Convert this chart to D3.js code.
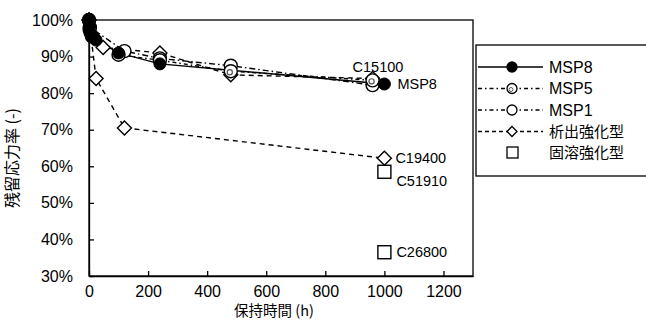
<!DOCTYPE html>
<html><head><meta charset="utf-8">
<script src="https://cdn.jsdelivr.net/npm/d3@7"></script>
<style>
body{margin:0;background:#fff;}
svg{display:block;}
text{font-family:"Liberation Sans",Arial,"Noto Sans CJK JP",sans-serif;fill:#000;}
.jp{font-family:"Noto Sans CJK JP","Liberation Sans",sans-serif;}
</style></head>
<body><svg id="c" width="646" height="322"></svg>
<script>
// ---- data ----
const xTicks = [0, 200, 400, 600, 800, 1000, 1200];
const yTicks = [0.3, 0.4, 0.5, 0.6, 0.7, 0.8, 0.9, 1.0];
const msp8 = [[0,1.00],[1,0.98],[3,0.965],[10,0.955],[24,0.945],[100,0.91],[240,0.88],[1000,0.825]];
const msp5 = [[0,1.00],[2,0.975],[10,0.955],[100,0.905],[240,0.89],[480,0.86],[960,0.835]];
const msp1 = [[0,1.00],[3,0.98],[120,0.915],[240,0.895],[480,0.875],[960,0.822]];
const c15100 = [[0,1.00],[48,0.925],[240,0.91],[480,0.85],[960,0.84]];
const c19400 = [[0,1.00],[24,0.84],[120,0.705],[1000,0.622]];
const solidSol = [[1000,0.585],[1000,0.365]];
const labels = [
  {t:"C15100", x:960, v:0.84, dx:-20, dy:-12},
  {t:"MSP8", x:1000, v:0.825, dx:13, dy:0},
  {t:"C19400", x:1000, v:0.622, dx:11, dy:0},
  {t:"C51910", x:1000, v:0.585, dx:12, dy:9},
  {t:"C26800", x:1000, v:0.365, dx:12, dy:0}
];
const legendNames = ["MSP8","MSP5","MSP1","析出強化型","固溶強化型"];

// ---- layout ----
const svg = d3.select("#c");
const L = 89, R = 473, T = 20, B = 276;
const x = d3.scaleLinear().domain([0,1300]).range([L,R]);
const y = d3.scaleLinear().domain([0.3,1.0]).range([B,T]);

// frame
svg.append("rect").attr("x",L).attr("y",T).attr("width",R-L).attr("height",B-T)
  .attr("fill","none").attr("stroke","#000").attr("stroke-width",1.3);

// axes
const xa = svg.append("g").attr("transform",`translate(0,${B})`)
  .call(d3.axisBottom(x).tickValues(xTicks).tickFormat(d3.format("d")).tickSizeInner(-5).tickSizeOuter(0).tickPadding(10));
const ya = svg.append("g").attr("transform",`translate(${L},0)`)
  .call(d3.axisLeft(y).tickValues(yTicks).tickFormat(d3.format(".0%")).tickSizeInner(-5).tickSizeOuter(0).tickPadding(16));
[xa,ya].forEach(g=>{
  g.select(".domain").attr("stroke","#000").attr("stroke-width",1.3);
  g.selectAll(".tick line").attr("stroke","#000").attr("stroke-width",1.3);
  g.selectAll(".tick text").attr("font-size",16).attr("font-family","Liberation Sans, Arial, sans-serif").attr("fill","#000");
});

// titles
svg.append("text").attr("class","jp").attr("x",274).attr("y",316).attr("text-anchor","middle")
  .attr("font-size",14.5).text("保持時間 (h)");
svg.append("text").attr("class","jp").attr("transform","translate(18,158) rotate(-90)")
  .attr("text-anchor","middle").attr("font-size",16).text("残留応力率 (-)");

// lines
const line = d3.line().x(d=>x(d[0])).y(d=>y(d[1]));
const series = [
  {d:c19400, dash:"5,4", m:"diamond"},
  {d:c15100, dash:"5,4", m:"diamond"},
  {d:msp1, dash:"6,3,1.5,3", m:"open"},
  {d:msp5, dash:"4,3,1.5,3", m:"dot"},
  {d:msp8, dash:null, m:"filled"}
];
series.forEach(s=>{
  svg.append("path").attr("d",line(s.d)).attr("fill","none").attr("stroke","#000")
    .attr("stroke-width",1.4).attr("stroke-dasharray",s.dash);
});

function marker(g, type, cx, cy){
  if(type==="filled"){
    g.append("circle").attr("cx",cx).attr("cy",cy).attr("r",6).attr("fill","#000").attr("stroke","#000");
  } else if(type==="open"){
    g.append("circle").attr("cx",cx).attr("cy",cy).attr("r",6.5).attr("fill","#fff").attr("stroke","#000").attr("stroke-width",1.4);
  } else if(type==="dot"){
    g.append("circle").attr("cx",cx).attr("cy",cy).attr("r",6.5).attr("fill","#fff").attr("stroke","#000").attr("stroke-width",1.4);
    g.append("circle").attr("cx",cx-1).attr("cy",cy+1).attr("r",2.6).attr("fill","none").attr("stroke","#555").attr("stroke-width",1.2);
  } else if(type==="diamond"){
    const h=7;
    g.append("path").attr("d",`M${cx},${cy-h}L${cx+h},${cy}L${cx},${cy+h}L${cx-h},${cy}Z`)
      .attr("fill","#fff").attr("stroke","#000").attr("stroke-width",1.4);
  } else if(type==="square"){
    g.append("rect").attr("x",cx-6.5).attr("y",cy-6.5).attr("width",13).attr("height",13)
      .attr("fill","#fff").attr("stroke","#000").attr("stroke-width",1.4);
  }
}
const mg = svg.append("g");
series.forEach(s=>{ s.d.forEach(p=>marker(mg, s.m, x(p[0]), y(p[1]))); });
solidSol.forEach(p=>marker(mg,"square",x(p[0]),y(p[1])));

// labels
labels.forEach(l=>{
  svg.append("text").attr("x",x(l.x)+l.dx).attr("y",y(l.v)+l.dy).attr("dy","0.35em")
    .attr("font-size",14.5).text(l.t);
});

// legend
const lg = svg.append("g");
lg.append("rect").attr("x",476).attr("y",45).attr("width",180).attr("height",131)
  .attr("fill","#fff").attr("stroke","#000").attr("stroke-width",1.3);
const legTypes = [
  {m:"filled",dash:null},{m:"dot",dash:"4,3,1.5,3"},{m:"open",dash:"4,3,1.5,3"},{m:"diamond",dash:"4,3"},{m:"square",dash:"none"}
];
legendNames.forEach((n,i)=>{
  const cy = 67 + i*21.5;
  const t = legTypes[i];
  if(t.dash!=="none"){
    lg.append("line").attr("x1",478).attr("x2",543).attr("y1",cy).attr("y2",cy)
      .attr("stroke","#000").attr("stroke-width",1.3).attr("stroke-dasharray",t.dash);
  }
  const gg = lg.append("g");
  if(t.m==="square"){
    gg.append("rect").attr("x",507).attr("y",cy-6).attr("width",11).attr("height",11)
      .attr("fill","#fff").attr("stroke","#000").attr("stroke-width",1.3);
  } else if(t.m==="diamond"){
    gg.append("path").attr("d",`M512,${cy-5}L517,${cy}L512,${cy+5}L507,${cy}Z`).attr("fill","#fff").attr("stroke","#000").attr("stroke-width",1.3);
  } else {
    gg.append("circle").attr("cx",512).attr("cy",cy).attr("r",5)
      .attr("fill",t.m==="filled"?"#000":"#fff").attr("stroke","#000").attr("stroke-width",1.3);
    if(t.m==="dot") gg.append("circle").attr("cx",511).attr("cy",cy+1).attr("r",2).attr("fill","none").attr("stroke","#555");
  }
  lg.append("text").attr("class", i>=3?"jp":null).attr("x",549).attr("y",cy).attr("dy","0.35em")
    .attr("font-size",i>=3?15:16).text(n);
});
</script></body></html>
